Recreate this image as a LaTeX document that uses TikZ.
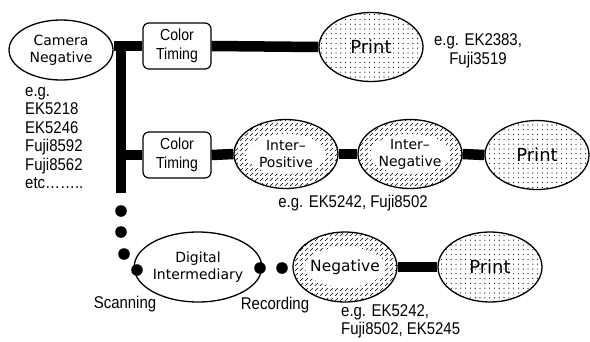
\documentclass[tikz,border=0pt]{standalone}
\usepackage{fontspec}
\setmainfont{Liberation Sans}[FakeStretch=0.88]
\newfontfamily\ovalfont{DejaVu Sans}
\usetikzlibrary{shapes.geometric, patterns}
\pgfdeclarepatternformonly{filmDots}{\pgfqpoint{-1pt}{-1pt}}{\pgfqpoint{1pt}{1pt}}{\pgfqpoint{4.8pt}{4.8pt}}{%
  \pgfpathcircle{\pgfpointorigin}{0.6pt}\pgfusepath{fill}}
\pgfdeclarepatternformonly{filmHatch}{\pgfqpoint{-1pt}{-1pt}}{\pgfqpoint{6pt}{6pt}}{\pgfqpoint{5pt}{5pt}}{%
  \pgfsetlinewidth{0.5pt}\pgfpathmoveto{\pgfqpoint{0pt}{0pt}}\pgfpathlineto{\pgfqpoint{3pt}{3pt}}\pgfusepath{stroke}}
\tikzset{
  filmOval/.style={ellipse, draw, line width=1.3pt, minimum width=104pt, minimum height=69pt,
                   inner sep=0pt, align=center, font=\ovalfont\fontsize{14}{17}\selectfont},
  printOval/.style={filmOval, preaction={pattern=filmDots}, font=\ovalfont\fontsize{18}{20}\selectfont},
  hatchOval/.style={filmOval, preaction={pattern=filmHatch},
                    path picture={\fill[white] (path picture bounding box.center) ellipse (40pt and 20pt);}},
  timingBox/.style={rectangle, draw, rounded corners=6pt, line width=1.2pt, minimum width=68pt,
                    minimum height=46pt, align=center, font=\fontsize{16}{19}\selectfont},
  bar/.style={line width=10.5pt},
  note/.style={inner sep=0pt, font=\fontsize{17}{18.5}\selectfont},
}
\begin{document}
\begin{tikzpicture}[x=1pt, y=-1pt]
  \useasboundingbox (0,0) rectangle (590,341);
  % nodes
  \node[filmOval, minimum height=60pt] (cam) at (61,50) {Camera\\Negative};
  \node[timingBox] (ct1) at (177,46) {Color\\Timing};
  \node[printOval] (print1) at (371,47) {Print};
  \node[timingBox] (ct2) at (177,155) {Color\\Timing};
  \node[hatchOval] (ipos) at (286,154) {Inter–\\Positive};
  \node[hatchOval] (ineg) at (410,154) {Inter–\\Negative};
  \node[printOval] (print2) at (537,155) {Print};
  \node[filmOval, minimum height=70pt] (di) at (198,267) {Digital\\Intermediary};
  \node[hatchOval, minimum height=70pt, font=\ovalfont\fontsize{15.5}{17}\selectfont] (neg) at (345,267) {Negative};
  \node[printOval, minimum height=70pt] (print3) at (490,267) {Print};
  % labels
  \node[note, align=center] (egPrint) at (478,51) {e.g. EK2383,\\Fuji3519};
  \node[note, align=left, anchor=north west] (egCam) at (25,87) {e.g.\\EK5218\\EK5246\\Fuji8592\\Fuji8562\\etc……..};
  \node[note] (egInter) at (353,203) {e.g. EK5242, Fuji8502};
  \node[note] (scan) at (125,304) {Scanning};
  \node[note] (rec) at (275,305) {Recording};
  \node[note, align=left, anchor=north west] (egNeg) at (341,304) {e.g. EK5242,\\Fuji8502, EK5245};
  % connectors
  \coordinate (trunkTop) at (121,42);
  \coordinate (trunkEnd) at (121,193);
  \draw[bar] (cam.east |- ct1) -- (ct1.west);
  \draw[bar] (ct1.east) -- (print1.west);
  \draw[bar] (trunkTop) -- (trunkEnd);
  \draw[bar] (trunkEnd |- ct2) -- (ct2.west);
  \draw[bar] (ct2.east) -- (ipos.west);
  \draw[bar] (ipos.east) -- (ineg.west);
  \draw[bar] (ineg.east) -- (print2.west);
  \draw[bar] (neg.east) -- (print3.west);
  % dotted links
  \foreach \p in {(121,211),(121,232),(124,254),(137,270),(260,268),(282,268)}
    \fill \p circle (5.8pt);
\end{tikzpicture}
\end{document}
